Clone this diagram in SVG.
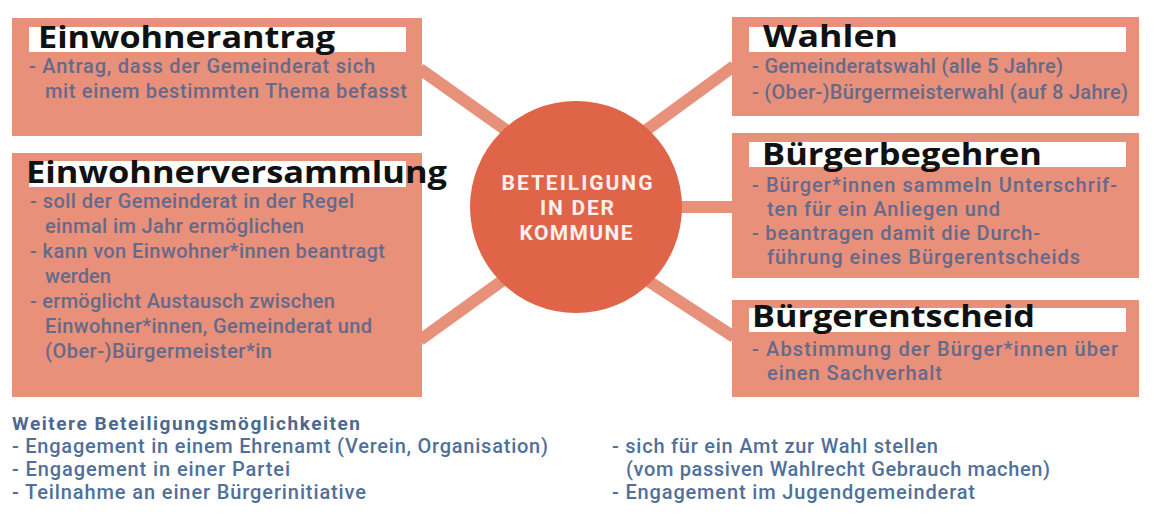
<svg xmlns="http://www.w3.org/2000/svg" width="1156" height="526" viewBox="0 0 1156 526">
<style>
.box{fill:#e8907a}
.bar{fill:#ffffff}
.title{font-family:"Open Sans","Liberation Sans",sans-serif;font-weight:700;font-size:31px;fill:#111111}
.body{font-family:Roboto,"Liberation Sans",sans-serif;font-weight:500;font-size:20px;fill:#656a8a}
.conn{stroke:#e8917a;stroke-width:12;fill:none}
.hub{fill:#df6448}
.hubt{font-family:Roboto,"Liberation Sans",sans-serif;font-weight:700;font-size:21px;fill:#fdf0ee;text-anchor:middle}
.ftitle{font-family:Roboto,"Liberation Sans",sans-serif;font-weight:700;font-size:19px;fill:#4d6890}
.ftext{font-family:Roboto,"Liberation Sans",sans-serif;font-weight:500;font-size:20px;fill:#50709a}
</style>
<rect width="1156" height="526" fill="#ffffff"/>
<g id="connectors">
<line class="conn" x1="420" y1="69" x2="520" y2="140"/>
<line class="conn" x1="420" y1="340" x2="520" y2="268"/>
<line class="conn" x1="734" y1="66" x2="630" y2="142"/>
<line class="conn" x1="670" y1="207" x2="734" y2="207"/>
<line class="conn" x1="630" y1="269" x2="734" y2="337"/>
</g>
<g id="einwohnerantrag">
<rect class="box" x="12" y="18" width="410" height="118"/>
<rect class="bar" x="29" y="27" width="377" height="25"/>
<text class="title" x="38" y="48" textLength="297" lengthAdjust="spacingAndGlyphs">Einwohnerantrag</text>
<text class="body" x="29" y="73" textLength="346">- Antrag, dass der Gemeinderat sich</text>
<text class="body" x="45" y="98" textLength="362">mit einem bestimmten Thema befasst</text>
</g>
<g id="einwohnerversammlung">
<rect class="box" x="12" y="153" width="410" height="244"/>
<rect class="bar" x="29" y="161" width="377" height="26"/>
<text class="title" x="26" y="183" textLength="421" lengthAdjust="spacingAndGlyphs">Einwohnerversammlung</text>
<text class="body" x="30" y="208" textLength="324">- soll der Gemeinderat in der Regel</text>
<text class="body" x="45" y="233" textLength="259">einmal im Jahr ermöglichen</text>
<text class="body" x="30" y="258" textLength="355">- kann von Einwohner*innen beantragt</text>
<text class="body" x="45" y="283" textLength="66">werden</text>
<text class="body" x="30" y="308" textLength="305">- ermöglicht Austausch zwischen</text>
<text class="body" x="45" y="333" textLength="327">Einwohner*innen, Gemeinderat und</text>
<text class="body" x="45" y="358" textLength="227">(Ober-)Bürgermeister*in</text>
</g>
<g id="beteiligung">
<circle class="hub" cx="576" cy="207" r="106"/>
<text class="hubt" x="577" y="190" textLength="151">BETEILIGUNG</text>
<text class="hubt" x="577" y="215" textLength="74">IN DER</text>
<text class="hubt" x="576" y="240" textLength="113">KOMMUNE</text>
</g>
<g id="wahlen">
<rect class="box" x="732" y="17" width="407" height="99"/>
<rect class="bar" x="749" y="27" width="377" height="25"/>
<text class="title" x="763" y="47" textLength="135" lengthAdjust="spacingAndGlyphs">Wahlen</text>
<text class="body" x="752" y="73" textLength="311">- Gemeinderatswahl (alle 5 Jahre)</text>
<text class="body" x="752" y="99" textLength="376">-  (Ober-)Bürgermeisterwahl (auf 8 Jahre)</text>
</g>
<g id="buergerbegehren">
<rect class="box" x="732" y="133" width="407" height="145"/>
<rect class="bar" x="749" y="142" width="377" height="25"/>
<text class="title" x="762" y="165" textLength="280" lengthAdjust="spacingAndGlyphs">Bürgerbegehren</text>
<text class="body" x="752" y="192" textLength="365">- Bürger*innen sammeln Unterschrif-</text>
<text class="body" x="767" y="216" textLength="233">ten für ein Anliegen und</text>
<text class="body" x="752" y="240" textLength="288">- beantragen damit die Durch-</text>
<text class="body" x="767" y="264" textLength="313">führung eines Bürgerentscheids</text>
</g>
<g id="buergerentscheid">
<rect class="box" x="732" y="300" width="407" height="97"/>
<rect class="bar" x="749" y="308" width="377" height="24"/>
<text class="title" x="752" y="327" textLength="283" lengthAdjust="spacingAndGlyphs">Bürgerentscheid</text>
<text class="body" x="752" y="356" textLength="366">- Abstimmung der Bürger*innen über</text>
<text class="body" x="767" y="380" textLength="175">einen Sachverhalt</text>
</g>
<g id="weitere">
<text class="ftitle" x="12" y="430" textLength="348">Weitere Beteiligungsmöglichkeiten</text>
<text class="ftext" x="12" y="453" textLength="536">- Engagement in einem Ehrenamt (Verein, Organisation)</text>
<text class="ftext" x="12" y="476" textLength="278">- Engagement in einer Partei</text>
<text class="ftext" x="12" y="499" textLength="354">- Teilnahme an einer Bürgerinitiative</text>
<text class="ftext" x="612" y="453" textLength="326">- sich für ein Amt zur Wahl stellen</text>
<text class="ftext" x="626" y="476" textLength="424">(vom passiven Wahlrecht Gebrauch machen)</text>
<text class="ftext" x="612" y="499" textLength="363">- Engagement im Jugendgemeinderat</text>
</g>
</svg>
